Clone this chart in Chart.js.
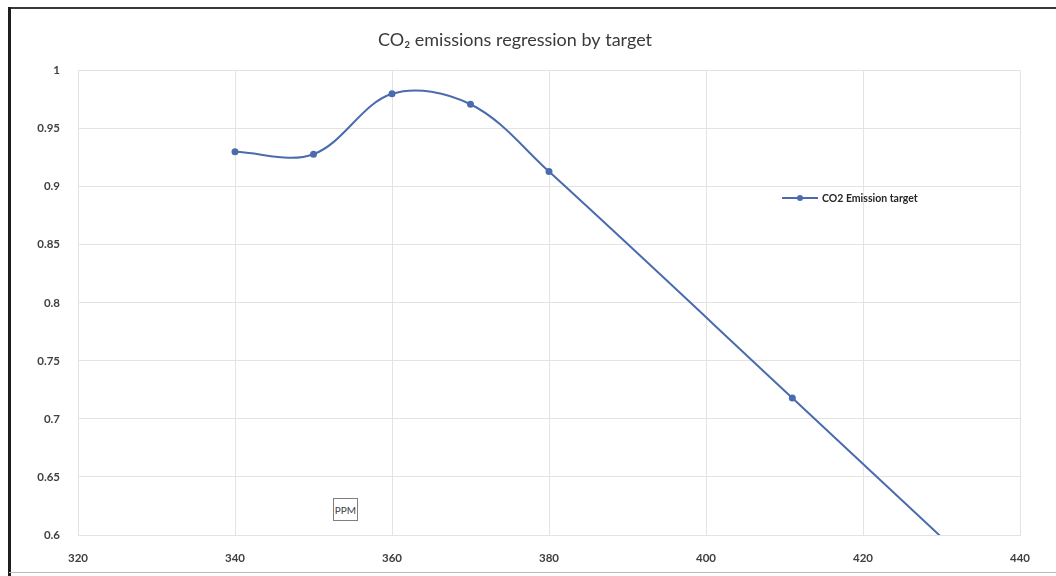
<!DOCTYPE html>
<html>
<head>
<meta charset="utf-8">
<script src="https://cdn.jsdelivr.net/npm/chart.js@4.4.0/dist/chart.umd.min.js"></script>
<style>
  body { margin: 0; background: #fff; }
  #wrap { position: relative; width: 1056px; height: 576px; overflow: hidden; background: #fff; }
  #frameTop { position: absolute; left: 9px; top: 7px; width: 1047px; height: 2px; background: #3a3a3a; }
  #frameLeft { position: absolute; left: 8px; top: 7px; width: 3px; height: 569px; background: #1e1e1e; }
  #frameBottom { position: absolute; left: 9px; top: 572px; width: 1047px; height: 1px; background: #bbb; }
  #legend { position: absolute; left: 782px; top: 192px; font: bold 10.5px Lato, "Liberation Sans", sans-serif; color: #262626; display: flex; align-items: center; }
  #legend .line { position: relative; width: 36px; height: 2px; background: #4a6cae; margin-right: 4px; }
  #legend .dot { position: absolute; left: 15px; top: -2px; width: 6px; height: 6px; border-radius: 50%; background: #4a6cae; }
  #ppm { position: absolute; left: 333px; top: 498px; width: 23px; height: 21px; border: 1px solid #7f7f7f; font: 10px Lato, "Liberation Sans", sans-serif; color: #404040; display: flex; align-items: center; justify-content: center; background: #fff; }
  canvas { position: absolute; left: 0; top: 0; }
</style>
</head>
<body>
<div id="wrap">
  <canvas id="chart" width="1056" height="576"></canvas>
  <div id="frameTop"></div>
  <div id="frameLeft"></div>
  <div id="frameBottom"></div>
  <div id="legend"><span class="line"><span class="dot"></span></span>CO2 Emission target</div>
  <div id="ppm">PPM</div>
</div>
<script>
// ppm values and emission target ratio
const ppm = [340, 350, 360, 370, 380, 411, 440];
const target = [0.93, 0.928, 0.98, 0.971, 0.913, 0.718, 0.535];

const xTicks = [320, 340, 360, 380, 400, 420, 440];
const yTicks = [0.6, 0.65, 0.7, 0.75, 0.8, 0.85, 0.9, 0.95, 1];

const lineColor = '#4a6cae';
const gridColor = '#e3e3e3';
const labelFont = { family: 'Lato, "Liberation Sans", sans-serif', size: 11.5, weight: 'bold' };

const ctx = document.getElementById('chart').getContext('2d');

new Chart(ctx, {
  type: 'scatter',
  data: {
    datasets: [{
      label: 'CO2 Emission target',
      data: ppm.map((x, i) => ({ x: x, y: target[i] })),
      showLine: true,
      borderColor: lineColor,
      backgroundColor: lineColor,
      borderWidth: 2,
      pointRadius: (c) => (c.dataIndex === ppm.length - 1 ? 0 : 2.5),
      pointHoverRadius: 2.5,
      tension: 0.35,
    }],
  },
  options: {
    responsive: false,
    animation: false,
    layout: { padding: { left: 10, right: 36, bottom: 0, top: 0 } },
    plugins: {
      legend: { display: false },
      tooltip: { enabled: false },
      title: {
        display: true,
        text: 'CO\u2082 emissions regression by target',
        color: '#3a3a3a',
        font: { family: 'Lato, "Liberation Sans", sans-serif', size: 18, weight: 'normal' },
        padding: { top: 29, bottom: 20 },
      },
    },
    scales: {
      x: {
        type: 'linear',
        min: 320,
        max: 440,
        afterBuildTicks: (axis) => { axis.ticks = xTicks.map((v) => ({ value: v })); },
        afterFit: (axis) => { axis.height = 41; },
        grid: { color: gridColor, drawTicks: false },
        border: { color: gridColor },
        ticks: { color: '#404040', font: labelFont, padding: 16 },
      },
      y: {
        min: 0.6,
        max: 1,
        afterBuildTicks: (axis) => { axis.ticks = yTicks.map((v) => ({ value: v })); },
        afterFit: (axis) => { axis.width = 68; },
        grid: { color: gridColor, drawTicks: false },
        border: { color: gridColor },
        ticks: { color: '#404040', font: labelFont, padding: 18, callback: (v) => String(+v.toFixed(2)) },
      },
    },
  },
});
</script>
</body>
</html>
